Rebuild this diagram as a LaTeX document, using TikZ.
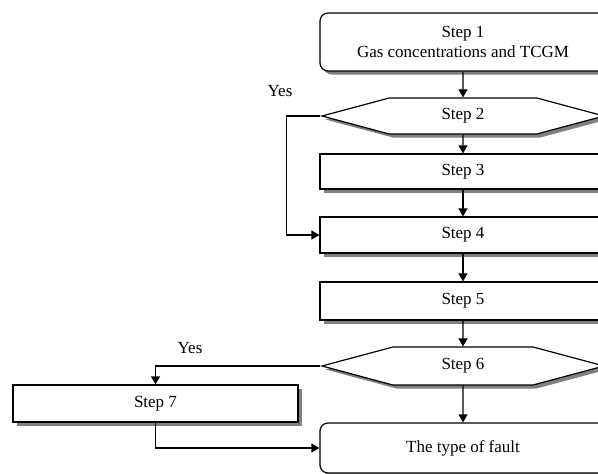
\documentclass[tikz,border=0pt]{standalone}
\usepackage{fontspec}
\setmainfont{Liberation Serif}
\usetikzlibrary{arrows.meta,shapes.symbols,shadows}

\begin{document}
\begin{tikzpicture}[x=1pt,y=-1pt,line width=1.2pt,>={Triangle[length=8pt,width=9pt]}]
	\tikzstyle{base}=[draw=black,fill=white,font=\fontsize{17}{20}\selectfont,align=center,inner sep=0pt,
		drop shadow={shadow xshift=3.5pt,shadow yshift=-3.5pt,fill=black!50,opacity=1}]
	\tikzstyle{stepbox}=[base,rectangle,minimum width=286pt]
	\tikzstyle{endbox}=[base,rectangle,rounded corners=8pt,minimum width=286pt]
	\tikzstyle{test}=[base,signal,signal to=west and east,signal pointer angle=30,minimum width=282pt]
	\useasboundingbox (0,0) rectangle (598,474);
	\node[endbox,minimum height=58pt](s1) at (463,42) {Step 1\\Gas concentrations and TCGM};
	\node[test,minimum height=36pt](s2) at (463,116) {Step 2};
	\node[stepbox,minimum height=35pt](s3) at (463,171.5) {Step 3};
	\node[stepbox,minimum height=36pt](s4) at (463,235) {Step 4};
	\node[stepbox,minimum height=38pt](s5) at (463,301) {Step 5};
	\node[test,minimum height=38pt](s6) at (463,366) {Step 6};
	\node[stepbox,minimum width=285pt,minimum height=37pt](s7) at (155.5,403.5) {Step 7};
	\node[endbox,minimum height=50pt](s8) at (463,448) {The type of fault};
	\node[font=\fontsize{17}{20}\selectfont](y1) at (280,91) {Yes};
	\node[font=\fontsize{17}{20}\selectfont](y2) at (190,348) {Yes};
	\draw[->](s1) -- (s2);
	\draw[->](s2) -- (s3);
	\draw[->](s3) -- (s4);
	\draw[->](s4) -- (s5);
	\draw[->](s5) -- (s6);
	\draw[->](s6) -- (s8);
	\draw[->](s2.west) -- ++(-33,0) |- (s4.west);
	\draw[->](s6.west) -| (s7.north);
	\draw[->](s7.south) |- (s8.west);
\end{tikzpicture}
\end{document}
